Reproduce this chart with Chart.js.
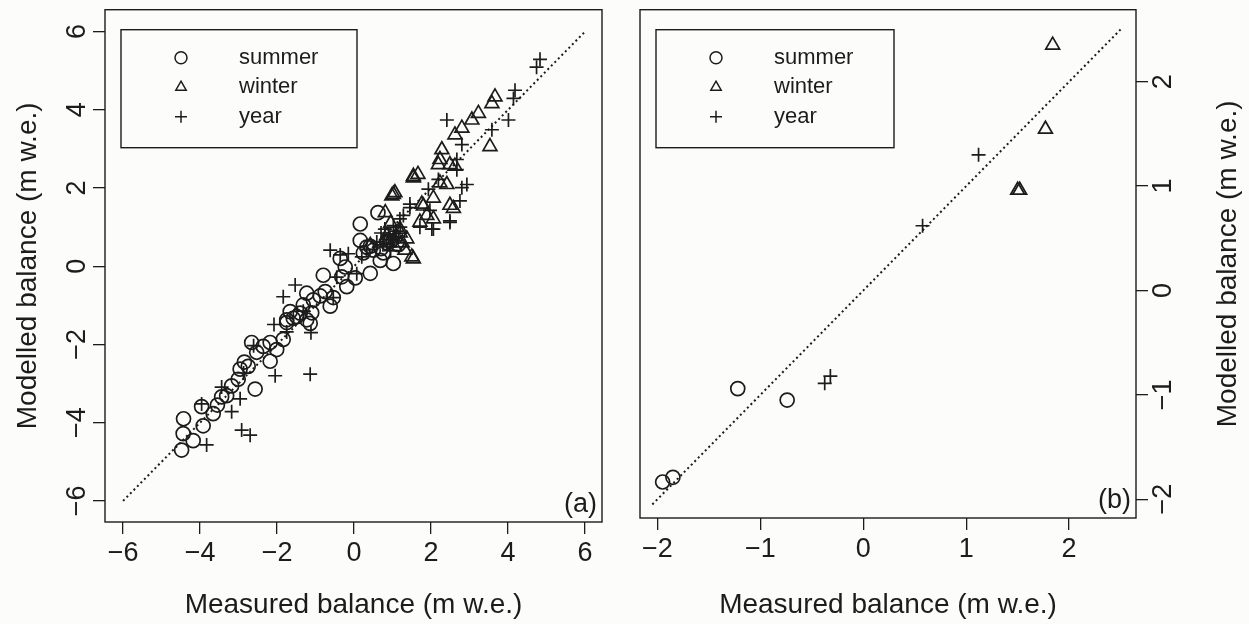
<!DOCTYPE html>
<html>
<head>
<meta charset="utf-8">
<script src="https://cdn.jsdelivr.net/npm/chart.js@4/dist/chart.umd.min.js"></script>
<style>
  html, body { margin: 0; padding: 0; background: #fcfcfa; }
  #wrap { position: relative; width: 1249px; height: 624px; overflow: hidden; }
  canvas { position: absolute; top: 0; }
  #panelA { left: 0; }
  #panelB { left: 620px; }
</style>
</head>
<body>
<div id="wrap">
  <canvas id="panelA" width="620" height="624"></canvas>
  <canvas id="panelB" width="629" height="624"></canvas>
</div>
<script>
// ---- panel (a): all stakes ----
const summerMeasA = [-4.43, -4.44, -4.48, -4.18, -3.92, -3.96, -3.66, -3.44, -3.31, -3.18, -3.01, -2.96, -2.75, -2.57, -2.66, -2.53, -2.36, -2.18, -2.18, -2.01, -1.84, -1.75, -1.49, -1.23, -1.10, -1.66, -1.75, -1.32, -1.23, -1.06, -0.80, -0.75, -0.62, -0.54, -0.36, -0.32, -0.23, -0.19, 0.03, 0.16, 0.16, 0.33, 0.42, 0.50, 0.62, 0.68, 1.02, -0.88, -1.58, -1.40, -1.14, -2.85, -3.55, 0.24, 0.42, 0.76, 0.85, 1.15, 0.70, 0.95];
const summerModA  = [-3.90, -4.28, -4.70, -4.46, -4.08, -3.59, -3.77, -3.34, -3.31, -3.06, -2.89, -2.63, -2.56, -3.14, -1.95, -2.20, -2.05, -1.95, -2.43, -2.13, -1.87, -1.44, -1.29, -1.37, -1.19, -1.16, -1.37, -0.99, -0.69, -0.86, -0.23, -0.65, -1.02, -0.80, 0.20, -0.27, -0.02, -0.52, -0.30, 1.08, 0.66, 0.49, -0.18, 0.41, 1.37, 0.15, 0.07, -0.76, -1.33, -1.20, -1.46, -2.45, -3.55, 0.34, 0.51, 0.34, 0.60, 0.55, 0.45, 0.65];

const winterMeasA = [1.54, 1.50, 1.32, 1.37, 1.19, 0.81, 0.42, 1.06, 1.02, 0.98, 1.54, 1.54, 1.66, 1.80, 1.76, 2.06, 2.23, 2.41, 2.19, 2.23, 2.28, 2.62, 2.49, 2.58, 2.49, 2.62, 2.80, 3.06, 3.23, 3.58, 3.66, 3.53, 2.06, 1.89, 1.71, 0.85, 1.10, 1.25, 0.95, 0.90, 1.20, 1.05];
const winterModA  = [0.19, 0.24, 0.41, 0.70, 0.95, 1.37, 0.53, 1.88, 1.84, 1.80, 2.26, 2.30, 2.35, 1.54, 1.59, 1.74, 2.13, 2.09, 2.60, 2.73, 2.98, 2.56, 2.60, 1.48, 1.56, 3.36, 3.53, 3.74, 3.91, 4.16, 4.33, 3.06, 1.21, 1.30, 1.13, 0.78, 0.75, 0.60, 1.10, 0.60, 0.85, 0.50];

const yearMeasA = [4.83, 4.74, 4.18, 4.14, 4.01, 2.41, 3.58, 2.80, 2.67, 2.67, 2.93, 2.80, 2.19, 1.93, 2.02, 2.75, 2.49, 1.45, 2.49, 2.06, 1.45, 0.85, 0.59, 0.20, -0.15, -0.62, -1.53, -1.84, -1.12, -2.08, -2.05, -1.14, -3.96, -3.83, -3.18, -2.96, -2.92, -2.70, -3.44, -2.87, -2.61, -1.75, -1.32, -0.54, -0.45, 0.07, 1.02, 1.28, 1.19, 0.94, 1.71, 1.97, 0.33, -0.36, 0.70, 1.10, 0.75, 0.90, 1.00, 1.15, 0.80, 1.20, 0.95];
const yearModA  = [5.29, 5.09, 4.50, 4.29, 3.74, 3.74, 3.49, 3.11, 2.73, 2.47, 2.09, 2.01, 2.22, 1.97, 0.95, 1.67, 1.16, 1.50, 1.12, 0.95, 1.59, 0.57, 0.62, 0.24, 0.32, 0.41, -0.48, -0.78, -1.70, -1.49, -2.80, -2.76, -3.52, -4.57, -3.72, -3.39, -4.19, -4.32, -3.09, -2.73, -2.03, -1.68, -1.15, -0.80, -0.28, -0.19, 1.04, 1.30, 1.21, 0.69, 1.00, 1.43, 0.43, 0.29, 0.85, 0.90, 0.55, 0.80, 0.60, 0.75, 0.95, 1.00, 0.40];

const ticksA = [-6, -4, -2, 0, 2, 4, 6];
const lineA = [-6, 6];

// ---- panel (b) ----
const summerMeasB = [-1.95, -1.85, -1.22, -0.74];
const summerModB  = [-1.835, -1.79, -0.94, -1.05];
const winterMeasB = [1.50, 1.52, 1.77, 1.84];
const winterModB  = [0.96, 0.96, 1.545, 2.35];
const yearMeasB = [-0.375, -0.32, 0.576, 1.12];
const yearModB  = [-0.89, -0.82, 0.62, 1.30];

const ticksB = [-2, -1, 0, 1, 2];
const lineB = [-2.05, 2.5];

const seriesNames = ['summer', 'winter', 'year'];

const INK = '#1c1c1c';
const FONT = '"Liberation Sans", Arial, sans-serif';
const TICK_SIZE = 27;
const TITLE_SIZE = 28;

function pts(xs, ys) {
  return xs.map((x, i) => ({ x: x, y: ys[i] }));
}

function fmt(v) {
  return String(v).replace('-', '\u2212');
}

function marks(label, style, radius, xs, ys) {
  return {
    label: label,
    data: pts(xs, ys),
    pointStyle: style,
    pointRadius: radius,
    pointHoverRadius: radius,
    pointBorderWidth: 1.7,
    pointBorderColor: INK,
    pointBackgroundColor: 'rgba(0,0,0,0)',
    showLine: false
  };
}

function diagonal(ends) {
  return {
    data: pts(ends, ends),
    showLine: true,
    borderColor: INK,
    borderWidth: 2,
    borderDash: [2, 3],
    pointRadius: 0
  };
}

// frame, legend box, panel letter and (for panel b) the right-hand title
const framePlugin = {
  id: 'frame',
  afterDraw(chart, args, opts) {
    const ctx = chart.ctx;
    const a = chart.chartArea;
    ctx.save();
    ctx.strokeStyle = INK;
    ctx.lineWidth = 1.4;
    ctx.strokeRect(a.left, a.top, a.right - a.left, a.bottom - a.top);

    const bx = a.left + 16, by = a.top + 20;
    ctx.strokeRect(bx, by, opts.boxW, 118);
    ctx.font = '22px ' + FONT;
    ctx.fillStyle = INK;
    ctx.textBaseline = 'middle';
    ctx.textAlign = 'left';
    chart.data.datasets.filter(d => d.label).forEach((d, i) => {
      const y = by + 28 + i * 29.5;
      ctx.fillStyle = 'rgba(0,0,0,0)';
      ctx.strokeStyle = INK;
      ctx.lineWidth = 1.5;
      Chart.helpers.drawPoint(ctx, { pointStyle: d.pointStyle, radius: 6, rotation: 0, borderWidth: 1.5 }, bx + 60, y);
      ctx.fillStyle = INK;
      ctx.fillText(d.label, bx + 118, y);
    });

    ctx.font = '27px ' + FONT;
    ctx.textAlign = 'right';
    ctx.textBaseline = 'bottom';
    ctx.fillText(opts.tag, a.right - 5, a.bottom - 4);

    if (opts.rightTitle) {
      ctx.font = TITLE_SIZE + 'px ' + FONT;
      ctx.translate(a.right + 92, (a.top + a.bottom) / 2);
      ctx.rotate(-Math.PI / 2);
      ctx.textAlign = 'center';
      ctx.textBaseline = 'middle';
      ctx.fillText(opts.rightTitle, 0, 0);
    }
    ctx.restore();
  }
};

// fixed axis thickness, and no extra room for the end labels
function fixSize(prop, px) {
  return s => {
    s[prop] = px;
    s.paddingTop = 0;
    s.paddingBottom = 0;
    s.paddingLeft = 0;
    s.paddingRight = 0;
  };
}

function axisCommon(ticks, vertical) {
  const t = { color: INK, font: { family: FONT, size: TICK_SIZE }, callback: v => fmt(v) };
  if (vertical) {
    t.minRotation = 90;
    t.maxRotation = 90;
    t.crossAlign = 'center';
    t.padding = 0;
  }
  return {
    type: 'linear',
    afterBuildTicks: s => { s.ticks = ticks.map(v => ({ value: v })); },
    grid: { drawOnChartArea: false, drawTicks: true, tickLength: 12, color: INK, lineWidth: 1.3 },
    border: { display: false },
    ticks: t
  };
}

const xTitle = { display: true, text: 'Measured balance (m w.e.)', color: INK, font: { family: FONT, size: TITLE_SIZE }, padding: { top: 0, bottom: 2 } };

// panel (a)
new Chart(document.getElementById('panelA'), {
  type: 'scatter',
  data: {
    datasets: [
      diagonal(lineA),
      marks(seriesNames[0], 'circle', 7, summerMeasA, summerModA),
      marks(seriesNames[1], 'triangle', 8, winterMeasA, winterModA),
      marks(seriesNames[2], 'cross', 7, yearMeasA, yearModA)
    ]
  },
  options: {
    responsive: false,
    animation: false,
    layout: { padding: { top: 7, right: 18, left: 0, bottom: 0 } },
    plugins: { legend: { display: false }, tooltip: { enabled: false }, frame: { tag: '(a)', boxW: 236 } },
    scales: {
      x: Object.assign(axisCommon(ticksA, false), {
        min: -6.47, max: 6.44,
        position: 'bottom',
        afterFit: fixSize('height', 102),
        title: xTitle
      }),
      y: Object.assign(axisCommon(ticksA, true), {
        min: -6.54, max: 6.56,
        position: 'left',
        afterFit: fixSize('width', 105),
        title: { display: true, text: 'Modelled balance (m w.e.)', color: INK, font: { family: FONT, size: TITLE_SIZE }, padding: { top: 11, bottom: 0 } }
      })
    }
  },
  plugins: [framePlugin]
});

// panel (b)
new Chart(document.getElementById('panelB'), {
  type: 'scatter',
  data: {
    datasets: [
      diagonal(lineB),
      marks(seriesNames[0], 'circle', 7, summerMeasB, summerModB),
      marks(seriesNames[1], 'triangle', 8, winterMeasB, winterModB),
      marks(seriesNames[2], 'cross', 7, yearMeasB, yearModB)
    ]
  },
  options: {
    responsive: false,
    animation: false,
    layout: { padding: { top: 5, right: 0, left: 20, bottom: 0 } },
    plugins: { legend: { display: false }, tooltip: { enabled: false }, frame: { tag: '(b)', boxW: 238, rightTitle: 'Modelled balance (m w.e.)' } },
    scales: {
      x: Object.assign(axisCommon(ticksB, false), {
        min: -2.17, max: 2.65,
        position: 'bottom',
        afterFit: fixSize('height', 106),
        title: xTitle
      }),
      y: Object.assign(axisCommon(ticksB, true), {
        min: -2.18, max: 2.69,
        position: 'right',
        afterFit: fixSize('width', 113)
      })
    }
  },
  plugins: [framePlugin]
});
</script>
</body>
</html>
